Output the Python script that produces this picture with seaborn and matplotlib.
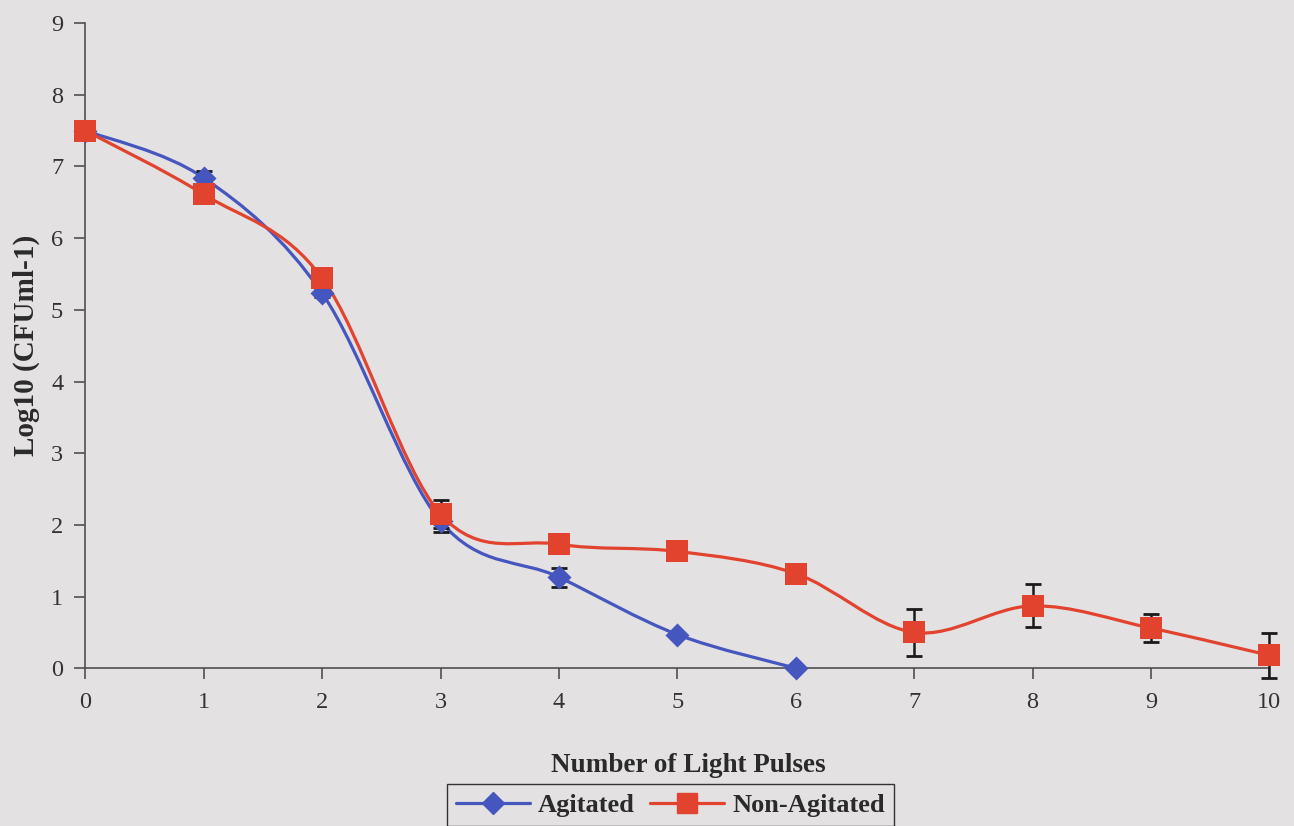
import matplotlib.pyplot as plt
import numpy as np
import seaborn as sns
from matplotlib.lines import Line2D
from matplotlib.patches import PathPatch
from matplotlib.path import Path

PULSES_AGITATED = [0, 1, 2, 3, 4, 5, 6]
LOG_AGITATED = [7.5, 6.84, 5.23, 2.05, 1.27, 0.47, 0.0]
ERR_AGITATED = [0.0, 0.1, 0.05, 0.15, 0.13, 0.0, 0.0]

PULSES_NON_AGITATED = [0, 1, 2, 3, 4, 5, 6, 7, 8, 9, 10]
LOG_NON_AGITATED = [7.5, 6.61, 5.44, 2.15, 1.73, 1.63, 1.32, 0.50, 0.87, 0.56, 0.18]
ERR_NON_AGITATED = [0.0, 0.0, 0.05, 0.2, 0.0, 0.0, 0.0, 0.33, 0.3, 0.2, 0.31]

SERIES_NAMES = ["Agitated", "Non-Agitated"]

BG = "#e3e1e2"
BLUE = "#4656bf"
RED = "#e2432f"
AXIS_GREY = "#505050"

sns.set_theme(style="white")
plt.rcParams["font.family"] = ["Liberation Serif", "DejaVu Serif"]


def smooth_path(x, y):
    # Excel-style smoothed line: cubic Bezier through every point
    pts = np.column_stack([x, y]).astype(float)
    padded = np.vstack([pts[0], pts, pts[-1]])
    verts = [pts[0]]
    codes = [Path.MOVETO]
    for i in range(len(pts) - 1):
        p0, p1, p2, p3 = padded[i], padded[i + 1], padded[i + 2], padded[i + 3]
        verts += [p1 + (p2 - p0) / 6, p2 - (p3 - p1) / 6, p2]
        codes += [Path.CURVE4] * 3
    return Path(verts, codes)


def draw_series(ax, x, y, err, color, marker, size):
    ax.add_patch(PathPatch(smooth_path(x, y), facecolor="none", edgecolor=color,
                           lw=2.3, clip_on=False, zorder=2))
    ax.errorbar(x, y, yerr=err, fmt="none", ecolor="#1a1a1a", elinewidth=1.8,
                capsize=6, capthick=2, clip_on=False, zorder=3)
    sns.scatterplot(x=x, y=y, marker=marker, s=size, color=color, edgecolor=color,
                    linewidth=0, ax=ax, clip_on=False, zorder=4, legend=False)


fig = plt.figure(figsize=(12.94, 8.26), dpi=100, facecolor=BG)
ax = fig.add_axes([0.066, 0.191, 0.915, 0.781])
ax.set_facecolor(BG)

draw_series(ax, PULSES_AGITATED, LOG_AGITATED, ERR_AGITATED, BLUE, "D", 150)
draw_series(ax, PULSES_NON_AGITATED, LOG_NON_AGITATED, ERR_NON_AGITATED, RED, "s", 230)

ax.set_xlim(0, 10)
ax.set_ylim(0, 9)
ax.set_xticks(range(0, 11))
ax.set_yticks(range(0, 10))
sns.despine(ax=ax)
for side in ["left", "bottom"]:
    ax.spines[side].set_color(AXIS_GREY)
    ax.spines[side].set_linewidth(1.2)
ax.tick_params(axis="both", which="major", direction="out", length=8, width=1.2,
               color=AXIS_GREY, labelsize=17.5, labelcolor="#333333",
               left=True, bottom=True)
ax.tick_params(axis="x", pad=9)
ax.tick_params(axis="y", pad=8)

ax.set_xlabel("Number of Light Pulses", fontsize=19.5, fontweight="bold",
              color="#2a2a2a", labelpad=29)
ax.xaxis.label.set_x(0.509)
ax.set_ylabel("Log10 (CFUml-1)", fontsize=21, fontweight="bold",
              color="#2a2a2a", labelpad=8)

handles = [
    Line2D([], [], color=BLUE, lw=2.3, marker="D", markersize=11, label=SERIES_NAMES[0]),
    Line2D([], [], color=RED, lw=2.3, marker="s", markersize=14, label=SERIES_NAMES[1]),
]
leg = fig.legend(handles=handles, loc="lower center", bbox_to_anchor=(0.518, -0.016),
                 ncol=2, frameon=True, fancybox=False, edgecolor="#333333",
                 facecolor=BG, framealpha=1, handlelength=2.8, handletextpad=0.3,
                 columnspacing=0.6, borderpad=0.35,
                 prop={"size": 19, "weight": "bold"})
leg.get_frame().set_linewidth(1.0)
for text in leg.get_texts():
    text.set_color("#2a2a2a")

fig.savefig("out.png", dpi=100, facecolor=BG)
